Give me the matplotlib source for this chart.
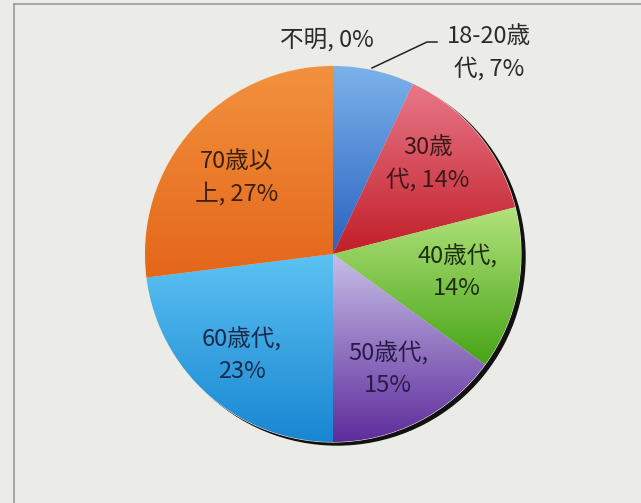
import numpy as np
import matplotlib.pyplot as plt
from matplotlib.colors import LinearSegmentedColormap
from matplotlib.patches import Circle

plt.rcParams['font.family'] = ['Noto Sans CJK JP', 'DejaVu Sans']

# slices, clockwise from the top
labels = ["不明, 0%", "18-20歳\n代, 7%", "30歳\n代, 14%", "40歳代,\n14%",
          "50歳代,\n15%", "60歳代,\n23%", "70歳以\n上, 27%"]
values = [0, 7, 14, 14, 15, 23, 27]
top_colors = ["#78aee8", "#7cb2ea", "#e8788a", "#b2e27c", "#c6bee6", "#5cc2f2", "#f2923e"]
bottom_colors = ["#2a62c0", "#2a62c0", "#c21e28", "#46a416", "#5e2c9c", "#1886d2", "#e4661a"]
text_colors = ["#2a2a2a", "#2a2a2a", "#3a1a1a", "#1e2e10", "#2a1a4a", "#1a2a4a", "#3a2010"]

BG = "#ebebe8"
W, H = 641, 503
cx, cy, r = 333, H - 254, 188

fig = plt.figure(figsize=(W / 100, H / 100), dpi=100, facecolor=BG)
ax = fig.add_axes([0, 0, 1, 1])
ax.set_facecolor(BG)

# shadow behind the pie
ax.add_patch(Circle((cx + 4, cy - 3), r, color="#111111", zorder=1))

wedges, _ = ax.pie(values, startangle=90, counterclock=False, center=(cx, cy),
                   radius=r, frame=True,
                   wedgeprops=dict(edgecolor="#f3e6d6", linewidth=0.8, zorder=2))

# vertical gradient inside each slice
grad = np.linspace(0, 1, 256).reshape(-1, 1)
for w, c_top, c_bot in zip(wedges, top_colors, bottom_colors):
    w.set_facecolor(c_top)
    ext = w.get_path().get_extents()
    if ext.width < 1:
        continue
    cmap = LinearSegmentedColormap.from_list("g", [c_top, c_bot])
    im = ax.imshow(grad, cmap=cmap, aspect="auto", origin="upper",
                   extent=[ext.x0, ext.x1, ext.y0, ext.y1], zorder=2.5)
    im.set_clip_path(w)

# label positions in pixels (x, y from top)
label_pos = [(327, 40), (489, 53), (428, 164), (457, 272), (388, 369), (242, 355), (237, 178)]
for lab, (x, y), tc in zip(labels, label_pos, text_colors):
    ax.text(x, H - y, lab, ha="center", va="center", fontsize=17,
            color=tc, linespacing=1.45, zorder=5)

# leader line for the 18-20 label
ax.plot([437, 427, 372], [H - 42, H - 42, H - 68], color="#222222", lw=1.1, zorder=5)

# frame lines of the scanned box
ax.plot([13.5, 13.5], [0, H - 3.5], color="#9a9a9a", lw=1.2, zorder=0.5)
ax.plot([13.5, W], [H - 3.5, H - 3.5], color="#9a9a9a", lw=1.2, zorder=0.5)

ax.set_xlim(0, W)
ax.set_ylim(0, H)
ax.set_aspect("auto")
ax.axis("off")

fig.savefig("out.png", dpi=100, facecolor=BG)
